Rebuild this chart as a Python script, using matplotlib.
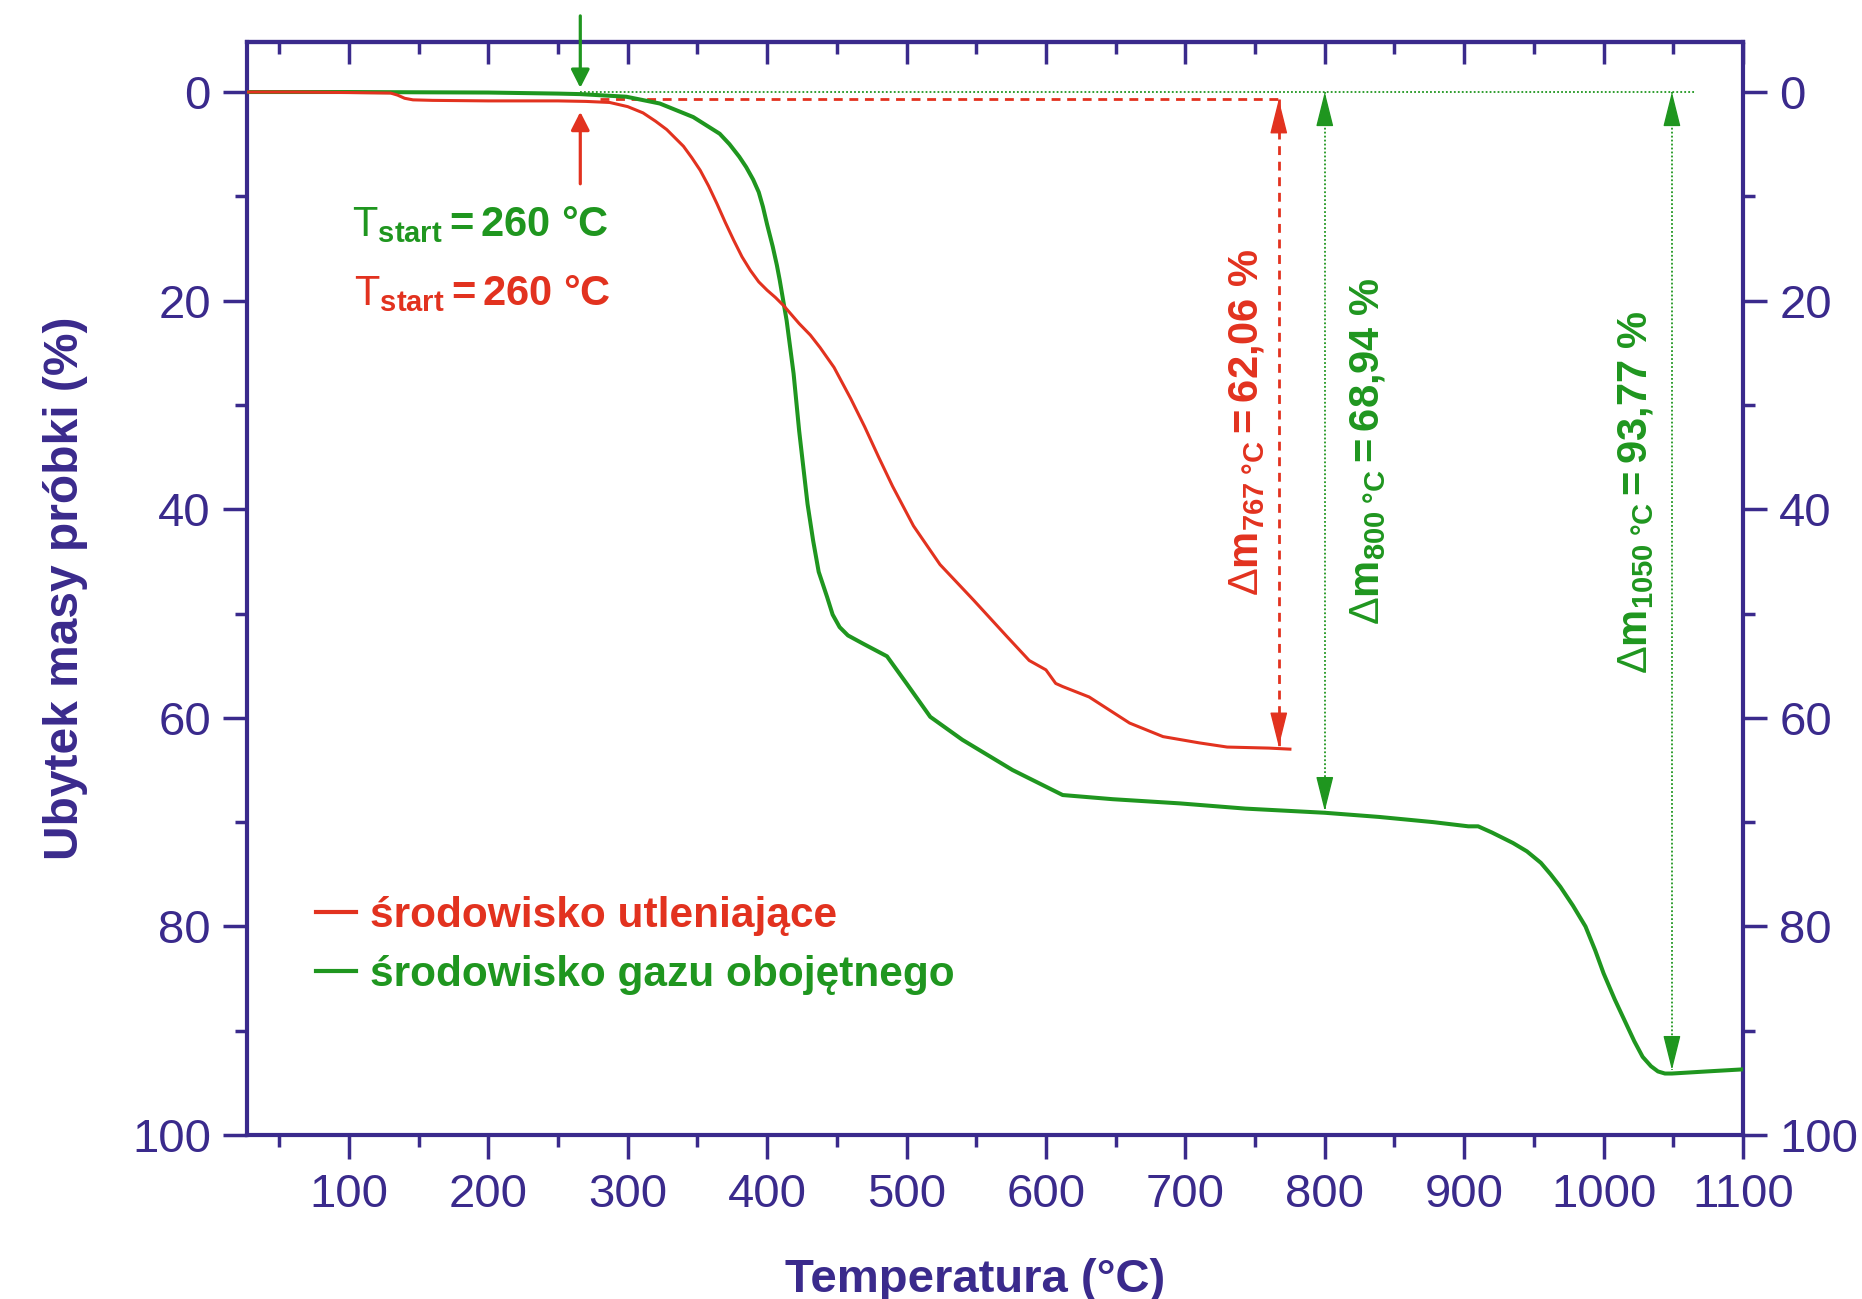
import matplotlib
matplotlib.use('Agg')
import matplotlib.pyplot as plt
from matplotlib.ticker import MultipleLocator
from matplotlib.lines import Line2D

plt.rcParams['font.family'] = ['Liberation Sans', 'DejaVu Sans']
plt.rcParams['mathtext.fontset'] = 'custom'
plt.rcParams['mathtext.rm'] = 'Liberation Sans'
plt.rcParams['mathtext.it'] = 'Liberation Sans:italic'
plt.rcParams['mathtext.bf'] = 'Liberation Sans:bold'

AXIS = '#3a2a8c'
RED = '#e2321f'
GREEN = '#1f961f'

# TGA curve, oxidising atmosphere (red)
temp_ox = [27, 60, 100, 130, 135, 140, 146, 160, 200, 250, 270, 287, 300, 311, 320, 328,
           340, 346, 352, 358, 364, 370, 376, 382, 388, 394, 400, 406, 412, 423, 431, 438, 448,
           460, 470, 480, 490, 505, 524, 548, 572, 588, 600, 607, 612, 631, 660, 684, 710,
           730, 760, 775]
loss_ox = [0, 0, 0.05, 0.1, 0.3, 0.6, 0.75, 0.8, 0.85, 0.85, 0.9, 1.0, 1.4, 2.0, 2.8, 3.6,
           5.2, 6.3, 7.5, 9.0, 10.7, 12.5, 14.2, 15.8, 17.1, 18.2, 19.0, 19.7, 20.5, 22.2, 23.3, 24.5, 26.4,
           29.4, 32.1, 35.0, 37.8, 41.6, 45.3, 48.7, 52.2, 54.5, 55.4, 56.7, 57.0, 58.0, 60.5, 61.8, 62.4,
           62.8, 62.9, 63.0]

# TGA curve, inert gas atmosphere (green)
temp_in = [27, 100, 200, 250, 266, 299, 323, 347, 366, 373, 380, 385, 390, 394, 397, 400,
           404, 407, 409, 414, 419, 423, 426, 429, 433, 437, 443, 447, 452, 458, 469, 486,
           500, 517, 540, 576, 612, 648, 696, 743, 800, 839, 878, 903, 910, 920, 935, 945,
           955, 962, 969, 978, 987, 994, 1000, 1008, 1015, 1022, 1028, 1034, 1039, 1044, 1049,
           1074, 1100]
loss_in = [0, 0, 0.05, 0.15, 0.2, 0.45, 1.1, 2.4, 4.0, 5.0, 6.2, 7.2, 8.4, 9.6, 11.0, 12.7,
           14.8, 16.6, 18.0, 21.9, 27.0, 32.5, 36.0, 39.5, 43.0, 46.0, 48.4, 50.1, 51.3, 52.1, 52.9, 54.1,
           56.7, 59.9, 62.1, 65.0, 67.4, 67.8, 68.2, 68.7, 69.1, 69.5, 70.0, 70.4, 70.4, 71.0, 72.0, 72.8,
           73.9, 75.0, 76.2, 78.0, 80.0, 82.3, 84.5, 87.0, 89.0, 91.0, 92.5, 93.4, 93.9, 94.1, 94.1,
           93.9, 93.7]

series_labels = ['środowisko utleniające', 'środowisko gazu obojętnego']

# mass loss readings
dm_temps = [767, 800, 1049]
dm_values = [62.06, 68.94, 93.77]
dm_base = [0.7, 0.0, 0.0]
dm_sub = ['767', '800', '1050']
dm_text_pos = [(744, 31.7), (831, 34.4), (1023, 38.4)]

t_start = 260
t_start_arrow_x = 266

fig = plt.figure(figsize=(18.62, 12.99), dpi=100)
ax = fig.add_axes([0.1327, 0.1262, 0.8034, 0.8415])

ax.plot(temp_ox, loss_ox, color=RED, lw=2.2, zorder=4)
ax.plot(temp_in, loss_in, color=GREEN, lw=2.9, zorder=3)

ax.set_xlim(27, 1100)
ax.set_ylim(100, -4.8)

# reference lines
dash = (0, (3.2, 2.4))
dots = (0, (1, 1.2))
ax.plot([280, dm_temps[0]], [dm_base[0], dm_base[0]], color=RED, lw=2, ls=dash, zorder=2)
ax.plot([t_start_arrow_x, 1066], [0, 0], color=GREEN, lw=1.3, ls=dots, zorder=2)

# double arrows for mass loss
colors = [RED, GREEN, GREEN]
styles = [dash, dots, dots]
widths = [2.0, 1.3, 1.3]
head = dict(arrowstyle='-|>,head_length=2.2,head_width=0.55', shrinkA=0, shrinkB=0,
            mutation_scale=10, lw=1)
for t, v, b, c, s, w in zip(dm_temps, dm_values, dm_base, colors, styles, widths):
    ax.plot([t, t], [b, b + v], color=c, lw=w, ls=s, zorder=2)
    ax.annotate('', xy=(t, b), xytext=(0, -22), textcoords='offset points',
                arrowprops=dict(color=c, **head))
    ax.annotate('', xy=(t, b + v), xytext=(0, 22), textcoords='offset points',
                arrowprops=dict(color=c, **head))

for (x, y), sub, v, c in zip(dm_text_pos, dm_sub, dm_values, colors):
    val = ('%.2f' % v).replace('.', '{,}')
    ax.text(x, y, r'$\Delta\mathbf{m}_{\mathbf{%s\ °C}}\mathbf{=%s\ \%%}$' % (sub, val),
            rotation=90, ha='center', va='center', color=c, fontsize=30)

# T_start arrows
small_head = '-|>,head_length=1.1,head_width=0.56'
ax.annotate('', xy=(t_start_arrow_x, -0.4), xytext=(t_start_arrow_x, -7.3),
            arrowprops=dict(arrowstyle=small_head, color=GREEN, lw=2.3, shrinkA=0,
                            shrinkB=0, mutation_scale=10),
            annotation_clip=False)
ax.annotate('', xy=(t_start_arrow_x, 1.9), xytext=(t_start_arrow_x, 8.8),
            arrowprops=dict(arrowstyle=small_head, color=RED, lw=2.3, shrinkA=0,
                            shrinkB=0, mutation_scale=10))

tstart_label = r'$\mathrm{T}_{\mathbf{start}}\mathbf{=%d\ °C}$' % t_start
ax.text(102.5, 13.8, tstart_label, color=GREEN, fontsize=30, ha='left', va='baseline')
ax.text(103.5, 20.4, tstart_label, color=RED, fontsize=30, ha='left', va='baseline')

# legend
handles = [Line2D([], [], color=RED, lw=3), Line2D([], [], color=GREEN, lw=3)]
ax.legend(handles, series_labels, loc='upper left', bbox_to_anchor=(0.046, 0.2185),
          frameon=False, prop={'weight': 'bold', 'size': 30.5}, labelcolor=[RED, GREEN],
          handlelength=0.95, handletextpad=0.33, labelspacing=0.44,
          borderaxespad=0, borderpad=0)

# axes styling
for sp in ax.spines.values():
    sp.set_color(AXIS)
    sp.set_linewidth(3)

ax.xaxis.set_major_locator(MultipleLocator(100))
ax.xaxis.set_minor_locator(MultipleLocator(50))
ax.yaxis.set_major_locator(MultipleLocator(20))
ax.yaxis.set_minor_locator(MultipleLocator(10))
ax.tick_params(which='major', direction='out', length=17, width=2.5, colors=AXIS,
               labelsize=34, pad=9)
ax.tick_params(which='minor', direction='out', length=8.5, width=2.5, colors=AXIS)
ax.tick_params(axis='y', which='both', left=True, right=True, labelleft=True, labelright=True)
ax.tick_params(axis='x', which='major', pad=10)

top = ax.secondary_xaxis('top')
top.xaxis.set_major_locator(MultipleLocator(100))
top.xaxis.set_minor_locator(MultipleLocator(50))
top.tick_params(which='major', direction='in', length=16, width=2.5, colors=AXIS, labeltop=False)
top.tick_params(which='minor', direction='in', length=8.5, width=2.5, colors=AXIS)
top.spines['top'].set_color(AXIS)
top.spines['top'].set_linewidth(3)

ax.set_xlabel('Temperatura (°C)', fontsize=34, fontweight='bold', color=AXIS)
ax.set_ylabel('Ubytek masy próbki (%)', fontsize=34.5, fontweight='bold', color=AXIS)
ax.xaxis.set_label_coords(0.487, -0.133)
ax.xaxis.label.set_va('center')
ax.yaxis.set_label_coords(-0.1217, 0.5)
ax.yaxis.label.set_va('center')

fig.savefig('out.png', dpi=100)
